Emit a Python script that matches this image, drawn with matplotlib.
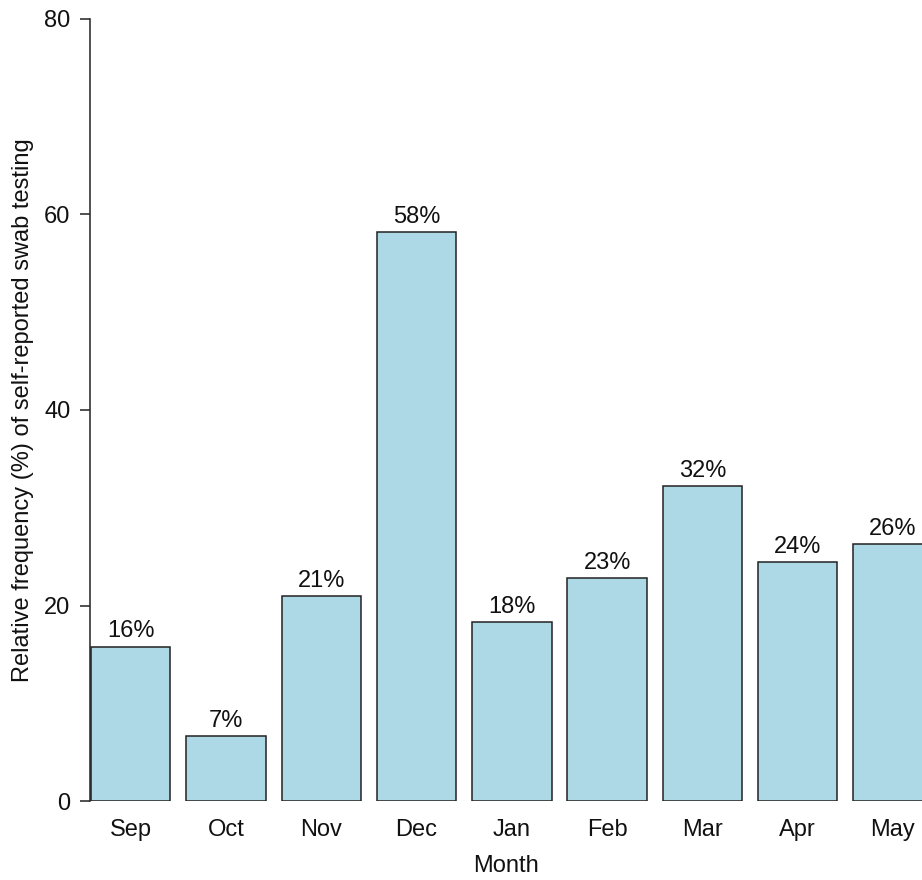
import matplotlib
matplotlib.use("Agg")
import matplotlib.pyplot as plt
import numpy as np

months = ["Sep", "Oct", "Nov", "Dec", "Jan", "Feb", "Mar", "Apr", "May"]
values = [15.8, 6.6, 21.0, 58.2, 18.3, 22.8, 32.2, 24.4, 26.3]
labels = ["16%", "7%", "21%", "58%", "18%", "23%", "32%", "24%", "26%"]
yticks = [0, 20, 40, 60, 80]

plt.rcParams['font.family'] = ['Liberation Sans', 'DejaVu Sans']
FS = 17

W, H = 922, 880
fig = plt.figure(figsize=(W / 100, H / 100), dpi=100)
ax = fig.add_axes([90 / W, (H - 801) / H, (W - 90) / W, (801 - 19) / H])

x = np.arange(len(months)) * 1.2
ax.bar(x, values, width=1.0, color="#ADD8E6", edgecolor="#222222", linewidth=1.1)

for xi, v, lab in zip(x, values, labels):
    ax.annotate(lab, (xi, v), xytext=(0, 3), textcoords="offset points",
                ha="center", va="bottom", fontsize=FS, color="#111111")

ax.set_xlim(-0.5 - 1 / 79.4, -0.5 + 831 / 79.4)
ax.set_ylim(0, 80)
ax.set_yticks(yticks)
ax.set_yticklabels([str(t) for t in yticks])
ax.set_xticks(x)
ax.set_xticklabels(months)

for s in ["top", "right", "bottom"]:
    ax.spines[s].set_visible(False)
ax.spines["left"].set_linewidth(1.1)
ax.spines["left"].set_color("#222222")

ax.tick_params(axis="y", length=7, width=1.1, pad=7, labelsize=FS, colors="#222222", labelcolor="#111111")
ax.tick_params(axis="x", length=0, pad=13, labelsize=FS, labelcolor="#111111")

ax.set_xlabel("Month", fontsize=FS, labelpad=10, color="#111111")
ax.set_ylabel("Relative frequency (%) of self-reported swab testing", fontsize=FS,
              labelpad=7, color="#111111")

fig.savefig("out.png", dpi=100)
